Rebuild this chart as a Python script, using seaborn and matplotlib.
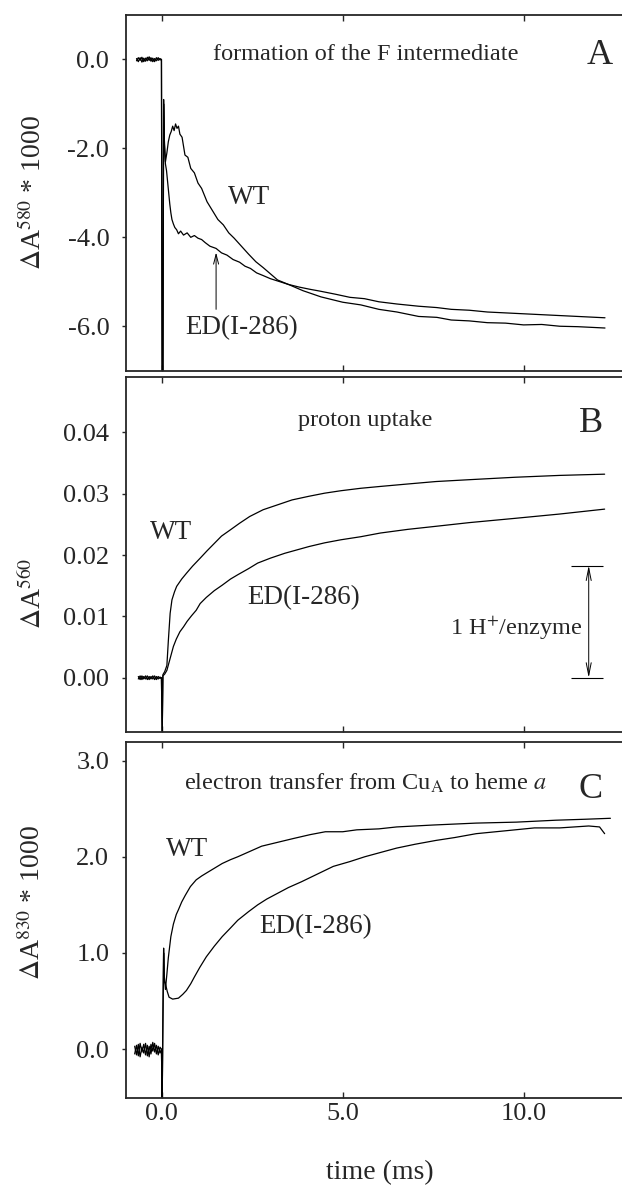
import matplotlib
matplotlib.use("Agg")
import matplotlib.pyplot as plt
import seaborn as sns
import pandas as pd

# ---------------- data ----------------
# panel A : formation of the F intermediate (dA580 * 1000)
A_BASE_T = [-0.70, -0.65, -0.60, -0.55, -0.50, -0.45, -0.40, -0.35, -0.30, -0.25,
            -0.20, -0.15, -0.10, -0.05, -0.01]
A_WT_T = A_BASE_T + [0.01, 0.03, 0.05, 0.07, 0.10,
                     0.14, 0.18, 0.22, 0.26, 0.30, 0.34, 0.38, 0.42, 0.46, 0.50,
                     0.56, 0.64, 0.72, 0.80, 0.90, 1.00, 1.10, 1.25, 1.40, 1.55,
                     1.70, 1.85, 2.00, 2.20, 2.40, 2.60, 2.80, 3.00, 3.20, 3.50,
                     3.90, 4.40, 5.00, 5.50, 6.00, 6.50, 7.10, 7.60, 8.00, 8.50,
                     9.00, 9.50, 10.00, 10.50, 11.00, 11.50, 12.25]
A_WT_V = [0.02, -0.05, 0.04, -0.06, 0.03, -0.04, 0.05, -0.02, 0.04, -0.05,
          0.02, -0.03, 0.04, -0.01, 0.0,
          -7.6, -7.6, -0.9, -1.8, -2.3,
          -2.1, -1.85, -1.7, -1.62, -1.5, -1.6, -1.45, -1.55, -1.5, -1.68,
          -1.75, -2.15, -2.2, -2.45, -2.55, -2.78, -2.9, -3.2, -3.4, -3.6,
          -3.72, -3.9, -4.02, -4.2, -4.38, -4.55, -4.68, -4.82, -4.96, -5.06,
          -5.2, -5.34, -5.46, -5.52, -5.62, -5.68, -5.78, -5.8, -5.86, -5.88,
          -5.92, -5.93, -5.97, -5.96, -6.0, -6.01, -6.04]
A_ED_T = A_BASE_T + [0.01, 0.03, 0.05, 0.07, 0.10,
                     0.13, 0.16, 0.19, 0.22, 0.25, 0.28, 0.32, 0.36, 0.41, 0.46,
                     0.52, 0.60, 0.70, 0.80, 0.90, 1.00, 1.10, 1.20, 1.33, 1.50,
                     1.65, 1.80, 1.97, 2.15, 2.30, 2.45, 2.62, 2.80, 3.00, 3.27,
                     3.50, 3.80, 4.10, 4.37, 4.80, 5.20, 5.60, 6.00, 6.50, 7.10,
                     7.60, 8.00, 8.50, 9.00, 9.50, 10.00, 10.50, 11.00, 11.50, 12.25]
A_ED_V = [-0.03, 0.04, -0.02, 0.05, -0.05, 0.03, -0.03, 0.06, -0.04, 0.03,
          -0.05, 0.04, -0.02, 0.02, 0.0,
          -7.6, -7.6, -1.0, -1.9, -2.35,
          -2.5, -2.75, -3.0, -3.25, -3.45, -3.6, -3.7, -3.78, -3.83, -3.92,
          -3.86, -3.95, -3.9, -4.0, -3.96, -4.02, -4.05, -4.12, -4.2, -4.25,
          -4.35, -4.4, -4.5, -4.56, -4.65, -4.7, -4.8, -4.86, -4.93, -5.0,
          -5.06, -5.12, -5.17, -5.21, -5.28, -5.35, -5.38, -5.45, -5.5, -5.55,
          -5.58, -5.62, -5.64, -5.68, -5.7, -5.72, -5.74, -5.76, -5.78, -5.81]

# panel B : proton uptake (dA560)
B_BASE_T = [-0.65, -0.60, -0.55, -0.50, -0.45, -0.40, -0.35, -0.30, -0.25,
            -0.20, -0.15, -0.10, -0.05, -0.01]
B_WT_T = B_BASE_T + [0.01, 0.03, 0.08, 0.14, 0.18, 0.23, 0.28, 0.35, 0.41, 0.55,
                     0.69, 0.85, 1.06, 1.25, 1.45, 1.65, 1.89, 2.15, 2.43, 2.80,
                     3.20, 3.60, 4.07, 4.50, 4.95, 5.50, 6.04, 6.80, 7.58, 8.50,
                     9.77, 11.00, 12.24]
B_WT_V = [0.0002, -0.0003, 0.0003, -0.0002, 0.0003, -0.0003, 0.0002, -0.0002,
          0.0003, -0.0003, 0.0002, -0.0002, 0.0001, 0.0,
          -0.0095, 0.0005, 0.001, 0.002, 0.006, 0.0105, 0.0127, 0.014, 0.0149, 0.0161,
          0.0171, 0.0182, 0.0195, 0.0207, 0.0219, 0.0231, 0.0241, 0.0252, 0.0263, 0.0274,
          0.0282, 0.029, 0.0296, 0.0301, 0.0305, 0.0309, 0.0312, 0.0316, 0.032, 0.0323,
          0.0327, 0.033, 0.0332]
B_ED_T = B_BASE_T + [0.01, 0.03, 0.08, 0.14, 0.20, 0.26, 0.32, 0.40, 0.50, 0.60,
                     0.70, 0.82, 0.95, 1.06, 1.23, 1.45, 1.67, 1.90, 2.10, 2.40,
                     2.65, 3.00, 3.40, 4.07, 4.50, 4.95, 5.50, 6.04, 6.80, 7.58,
                     8.50, 9.77, 11.00, 12.24]
B_ED_V = [-0.0002, 0.0003, -0.0003, 0.0002, -0.0002, 0.0003, -0.0003, 0.0002,
          -0.0002, 0.0003, -0.0003, 0.0002, -0.0001, 0.0,
          -0.0095, 0.0003, 0.0006, 0.0012, 0.0025, 0.0038, 0.0051, 0.0063, 0.0075, 0.0083,
          0.0092, 0.0101, 0.011, 0.0121, 0.0131, 0.0142, 0.0151, 0.0161, 0.0168, 0.0178,
          0.0187, 0.0195, 0.0203, 0.0214, 0.022, 0.0225, 0.023, 0.0236, 0.0242, 0.0247,
          0.0253, 0.026, 0.0267, 0.0275]
B_SCALE_BAR = [0.0, 0.0183]      # 1 H+/enzyme

# panel C : electron transfer CuA -> heme a (dA830 * 1000)
C_BASE_T = [-0.75, -0.70, -0.65, -0.60, -0.55, -0.50, -0.45, -0.40, -0.35, -0.30,
            -0.25, -0.20, -0.15, -0.10, -0.05, -0.01]
C_WT_T = C_BASE_T + [0.01, 0.03, 0.05, 0.07, 0.10, 0.14, 0.18, 0.25, 0.32, 0.40,
                     0.46, 0.55, 0.65, 0.79, 0.95, 1.10, 1.23, 1.45, 1.67, 1.90,
                     2.10, 2.40, 2.76, 3.20, 3.64, 4.10, 4.52, 5.00, 5.39, 6.00,
                     6.49, 7.50, 8.69, 9.80, 10.89, 11.70, 12.40]
C_WT_V = [0.03, -0.06, 0.05, -0.08, 0.02, -0.04, 0.06, -0.07, 0.03, -0.05,
          0.07, -0.03, 0.04, -0.06, 0.02, 0.0,
          -0.55, 0.3, 1.05, 0.75, 0.62, 0.78, 0.95, 1.17, 1.3, 1.4,
          1.45, 1.53, 1.6, 1.69, 1.76, 1.8, 1.83, 1.88, 1.93, 1.97,
          2.0, 2.05, 2.11, 2.15, 2.19, 2.23, 2.26, 2.26, 2.28, 2.29,
          2.31, 2.33, 2.35, 2.36, 2.38, 2.39, 2.40]
C_ED_T = C_BASE_T + [0.01, 0.03, 0.05, 0.07, 0.10, 0.15, 0.20, 0.30, 0.46, 0.58,
                     0.68, 0.80, 0.90, 1.05, 1.23, 1.45, 1.67, 1.90, 2.10, 2.40,
                     2.65, 2.90, 3.20, 3.50, 3.86, 4.30, 4.74, 5.20, 5.61, 6.00,
                     6.49, 7.00, 7.58, 8.10, 8.69, 9.50, 10.30, 11.00, 11.80, 12.10,
                     12.24]
C_ED_V = [-0.05, 0.04, -0.07, 0.06, -0.03, 0.05, -0.06, 0.04, -0.08, 0.05,
          -0.02, 0.06, -0.05, 0.03, -0.04, 0.0,
          -0.55, 0.3, 1.0, 0.7, 0.68, 0.6, 0.54, 0.52, 0.53, 0.57,
          0.61, 0.68, 0.75, 0.85, 0.96, 1.07, 1.17, 1.26, 1.34, 1.43,
          1.5, 1.56, 1.62, 1.68, 1.74, 1.82, 1.9, 1.95, 2.0, 2.04,
          2.09, 2.13, 2.17, 2.2, 2.24, 2.27, 2.3, 2.3, 2.32, 2.31,
          2.24]

X_TICKS = [0, 5, 10]
X_TICKLABELS = ["0.0", "5.0", "10.0"]
A_YTICKS = [0, -2, -4, -6]
A_YTICKLABELS = ["0.0", "-2.0", "-4.0", "-6.0"]
B_YTICKS = [0.0, 0.01, 0.02, 0.03, 0.04]
B_YTICKLABELS = ["0.00", "0.01", "0.02", "0.03", "0.04"]
C_YTICKS = [0, 1, 2, 3]
C_YTICKLABELS = ["0.0", "1.0", "2.0", "3.0"]

# ---------------- style ----------------
sns.set_style("ticks")
plt.rcParams["font.family"] = ["Liberation Serif", "DejaVu Serif"]
plt.rcParams["mathtext.fontset"] = "stix"
plt.rcParams["axes.linewidth"] = 1.3

W, H = 622, 1188
fig = plt.figure(figsize=(W / 100, H / 100), dpi=100)


def fx(px):
    return px / W


def fy(py):
    return 1 - py / H


XLIM = (-0.99, 12.72)
LEFT = 126
panels = [  # top px, bottom px
    (15.0, 370.7),
    (377.3, 732.3),
    (742.3, 1097.7),
]
axes = []
for top, bot in panels:
    ax = fig.add_axes([fx(LEFT), fy(bot), (W - LEFT) / W, (bot - top) / H])
    axes.append(ax)
axA, axB, axC = axes

TICK_FS = 19
LINE_KW = dict(color="black", lw=0.9, estimator=None, sort=False, legend=False)


def draw(ax, t, v):
    df = pd.DataFrame({"t": t, "v": v})
    sns.lineplot(data=df, x="t", y="v", ax=ax, **LINE_KW)


draw(axA, A_WT_T, A_WT_V)
draw(axA, A_ED_T, A_ED_V)
draw(axB, B_WT_T, B_WT_V)
draw(axB, B_ED_T, B_ED_V)
draw(axC, C_WT_T, C_WT_V)
draw(axC, C_ED_T, C_ED_V)

ylims = [(-7.0, 1.0), (-0.0089, 0.049), (-0.505, 3.19)]
yticks = [(A_YTICKS, A_YTICKLABELS), (B_YTICKS, B_YTICKLABELS), (C_YTICKS, C_YTICKLABELS)]
ylabels = ["$\\Delta$A$^{580}$ * 1000", "$\\Delta$A$^{560}$", "$\\Delta$A$^{830}$ * 1000"]
ylab_pos = [0.5, 0.392, 0.548]

for i, ax in enumerate(axes):
    ax.set_xlim(*XLIM)
    ax.set_ylim(*ylims[i])
    ax.set_xticks(X_TICKS)
    ax.set_yticks(yticks[i][0])
    ax.set_yticklabels(yticks[i][1])
    ax.spines["right"].set_visible(False)
    for s in ["left", "top", "bottom"]:
        ax.spines[s].set_linewidth(1.3)
    ax.tick_params(axis="x", direction="in", top=True, bottom=True, length=4,
                   width=1.0, labelsize=TICK_FS, pad=4)
    ax.tick_params(axis="y", direction="out", length=3, width=1.0,
                   labelsize=TICK_FS, pad=9)
    ax.set_ylabel(ylabels[i], fontsize=20, va="center")
    ax.yaxis.set_label_coords((33 - LEFT) / (W - LEFT), ylab_pos[i])
    if i < 2:
        ax.tick_params(axis="x", labelbottom=False)
        ax.set_xlabel("")
    else:
        ax.set_xticklabels(X_TICKLABELS)
        ax.set_xlabel("time (ms)", fontsize=20, va="center")
        ax.xaxis.set_label_coords(0.512, -0.212)

# ---------------- annotations ----------------
TXT = 17.5
LAB = 19.5
LET = 26
fig.text(fx(366), fy(55), "formation of the F intermediate", ha="center", va="center", fontsize=TXT)
fig.text(fx(600), fy(55), "A", ha="center", va="center", fontsize=LET)
fig.text(fx(249), fy(198), "WT", ha="center", va="center", fontsize=LAB)
fig.text(fx(242), fy(328), "ED(I-286)", ha="center", va="center", fontsize=LAB)
axA.annotate("", xy=(1.5, -4.34), xytext=(1.5, -5.62),
             arrowprops=dict(arrowstyle="->,head_length=0.7,head_width=0.18",
                             lw=0.7, color="black", shrinkA=0, shrinkB=0))

fig.text(fx(365), fy(420), "proton uptake", ha="center", va="center", fontsize=TXT)
fig.text(fx(591), fy(423), "B", ha="center", va="center", fontsize=LET)
fig.text(fx(171), fy(532), "WT", ha="center", va="center", fontsize=LAB)
fig.text(fx(304), fy(598), "ED(I-286)", ha="center", va="center", fontsize=LAB)
fig.text(fx(516), fy(628), "1 H$^{+}$/enzyme", ha="center", va="center", fontsize=TXT)
axB.annotate("", xy=(11.8, B_SCALE_BAR[0]), xytext=(11.8, B_SCALE_BAR[1]),
             arrowprops=dict(arrowstyle="<->,head_length=0.9,head_width=0.18",
                             lw=0.7, color="black", shrinkA=0, shrinkB=0))
axB.hlines(B_SCALE_BAR, 11.3, 12.2, color="black", lw=0.8)

fig.text(fx(365), fy(783), "electron transfer from Cu$_{\\mathrm{A}}$ to heme $a$",
         ha="center", va="center", fontsize=TXT)
fig.text(fx(591), fy(789), "C", ha="center", va="center", fontsize=LET)
fig.text(fx(187), fy(850), "WT", ha="center", va="center", fontsize=LAB)
fig.text(fx(316), fy(927), "ED(I-286)", ha="center", va="center", fontsize=LAB)

fig.savefig("out.png", dpi=100, facecolor="white")
